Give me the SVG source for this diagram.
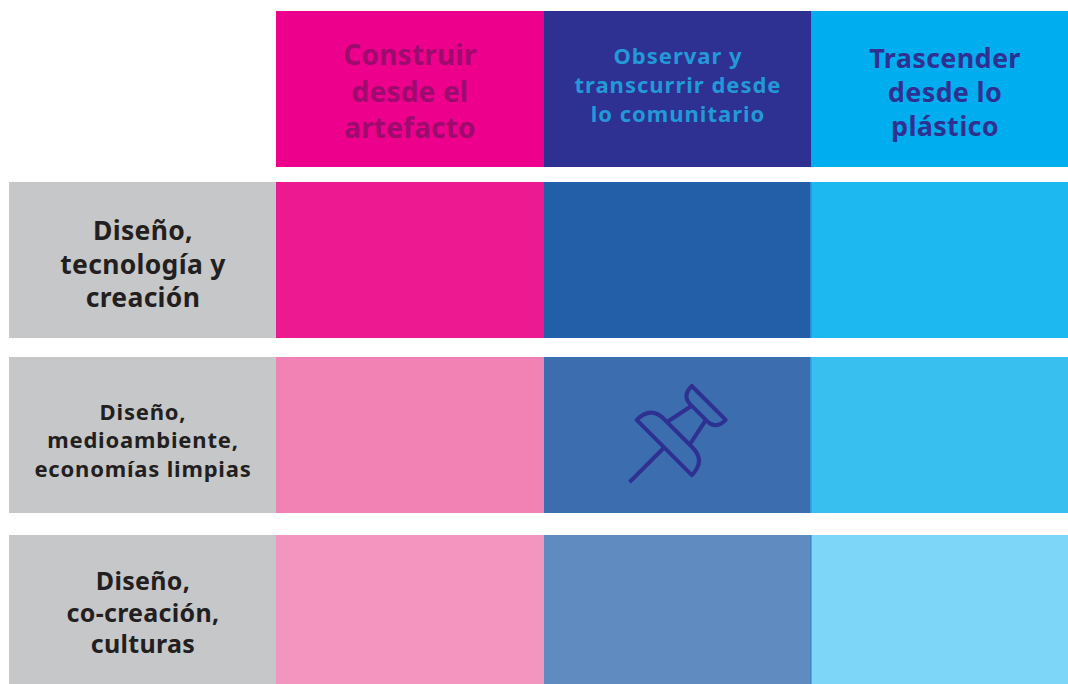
<svg xmlns="http://www.w3.org/2000/svg" width="1068" height="684" viewBox="0 0 1068 684">
<style>
text{font-family:"Noto Sans","Open Sans","DejaVu Sans",sans-serif;font-weight:700;text-anchor:middle}
.lab{fill:#231f20}
.gray{fill:#c6c7c9}
.pin{fill:none;stroke:#2e3192;stroke-width:4;stroke-linejoin:round}
</style>
<rect width="1068" height="684" fill="#ffffff"/>
<g id="header-construir">
<rect x="276" y="11" width="268" height="156" fill="#ec008c"/>
<text font-size="28" fill="#9e0b6f" letter-spacing="0.2"><tspan x="410" y="65">Construir</tspan><tspan x="410" y="101.5">desde el</tspan><tspan x="410" y="137.5">artefacto</tspan></text>
</g>
<g id="header-observar">
<rect x="544" y="11" width="267" height="156" fill="#2e3192"/>
<text font-size="22" fill="#2399d8" letter-spacing="1"><tspan x="678" y="64">Observar y</tspan><tspan x="678" y="93">transcurrir desde</tspan><tspan x="678" y="122">lo comunitario</tspan></text>
</g>
<g id="header-trascender">
<rect x="811" y="11" width="257" height="156" fill="#00aeef"/>
<text font-size="27" fill="#2e3192" letter-spacing="0.3"><tspan x="945" y="67.5">Trascender</tspan><tspan x="945" y="102">desde lo</tspan><tspan x="945" y="136">plástico</tspan></text>
</g>
<g id="row1">
<rect class="gray" x="9" y="182" width="267" height="156"/>
<text class="lab" font-size="26.5" letter-spacing="0.3"><tspan x="143" y="240">Diseño,</tspan><tspan x="143" y="274">tecnología y</tspan><tspan x="143" y="307">creación</tspan></text>
<rect x="276" y="182" width="268" height="156" fill="#ed1991"/>
<rect x="544" y="182" width="267" height="156" fill="#235ea8"/>
<rect x="811" y="182" width="257" height="156" fill="#1cb8ef"/>
<rect x="810" y="182" width="1.5" height="156" fill="#2a8ad0"/>
</g>
<g id="row2">
<rect class="gray" x="9" y="357" width="267" height="156"/>
<text class="lab" font-size="22" letter-spacing="0.8"><tspan x="143" y="419.5">Diseño,</tspan><tspan x="143" y="448">medioambiente,</tspan><tspan x="143" y="476.5">economías limpias</tspan></text>
<rect x="276" y="357" width="268" height="156" fill="#f282b4"/>
<rect x="544" y="357" width="267" height="156" fill="#3b6daf"/>
<rect x="811" y="357" width="257" height="156" fill="#38bff0"/>
<rect x="810" y="357" width="1.5" height="156" fill="#2a9ad8"/>
</g>
<g id="pin-icon" transform="translate(664.2,447.5) rotate(45)">
<path class="pin" d="M0 0V49"/>
<path class="pin" d="M-39 0H39Q39 -20 20 -20H-20Q-39 -20 -39 0Z"/>
<path class="pin" d="M-16 -20L-10 -49M16 -20L10 -49"/>
<path class="pin" d="M-24 -63H24Q24 -49 12 -49H-12Q-24 -49 -24 -63Z"/>
</g>
<g id="row3">
<rect class="gray" x="9" y="535" width="267" height="149"/>
<text class="lab" font-size="25" letter-spacing="0.3"><tspan x="143" y="590">Diseño,</tspan><tspan x="143" y="621.5">co-creación,</tspan><tspan x="143" y="653">culturas</tspan></text>
<rect x="276" y="535" width="268" height="149" fill="#f495c0"/>
<rect x="544" y="535" width="267" height="149" fill="#5f8bc0"/>
<rect x="811" y="535" width="257" height="149" fill="#7dd5f7"/>
<rect x="810" y="535" width="1.5" height="149" fill="#3d86c6"/>
</g>
<g id="connectors"/>
</svg>
